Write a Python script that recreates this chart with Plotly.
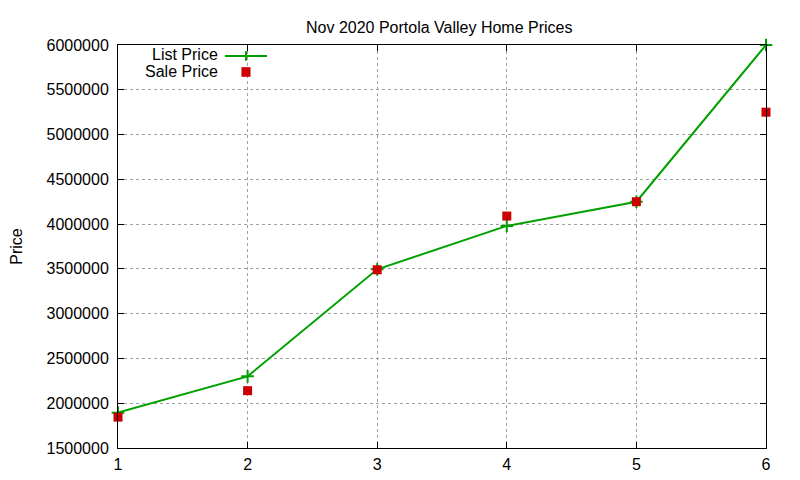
import plotly.graph_objects as go

# Nov 2020 Portola Valley home prices
HOMES = [1, 2, 3, 4, 5, 6]
LIST_PRICE = [1895000, 2300000, 3495000, 3980000, 4250000, 6000000]
SALE_PRICE = [1845000, 2140000, 3490000, 4090000, 4250000, 5250000]

GREEN = '#00a000'
RED = '#cc0000'
FONT = dict(family='Liberation Sans, Arial, sans-serif', size=16, color='black')

fig = go.Figure()
fig.add_trace(go.Scatter(x=HOMES, y=LIST_PRICE, mode='lines+markers', name='List Price',
                         line=dict(color=GREEN, width=2),
                         marker=dict(symbol='cross-thin', size=9,
                                     line=dict(color=GREEN, width=2)),
                         cliponaxis=False))
fig.add_trace(go.Scatter(x=HOMES, y=SALE_PRICE, mode='markers', name='Sale Price',
                         marker=dict(symbol='square', size=9, color=RED),
                         cliponaxis=False))

# gnuplot-style key: text on the left, sample on the right
key_shapes = [
    dict(type='line', xref='paper', yref='paper', x0=0.165, x1=0.230, y0=0.973, y1=0.973,
         line=dict(color=GREEN, width=2)),
    dict(type='line', xref='paper', yref='paper', x0=0.1975, x1=0.1975, y0=0.961, y1=0.985,
         line=dict(color=GREEN, width=2)),
    dict(type='rect', xref='paper', yref='paper', x0=0.1905, x1=0.2045, y0=0.921, y1=0.945,
         fillcolor=RED, line=dict(width=0)),
]
key_text = [
    dict(text='List Price', xref='paper', yref='paper', x=0.157, y=0.976,
         xanchor='right', yanchor='middle', showarrow=False, font=FONT),
    dict(text='Sale Price', xref='paper', yref='paper', x=0.157, y=0.935,
         xanchor='right', yanchor='middle', showarrow=False, font=FONT),
]

axis_common = dict(showline=True, linecolor='black', linewidth=1, mirror='ticks',
                   ticks='inside', ticklen=6, tickcolor='black', automargin=False,
                   showgrid=True, gridcolor='#a0a0a0', griddash='dot', gridwidth=1,
                   zeroline=False, tickfont=FONT)

fig.update_layout(
    width=792, height=472,
    paper_bgcolor='white', plot_bgcolor='white',
    font=FONT,
    title=dict(text='Nov 2020 Portola Valley Home Prices', x=0.5445, xanchor='center',
               y=0.958, yanchor='middle', font=dict(size=16)),
    showlegend=False,
    shapes=key_shapes, annotations=key_text,
    margin=dict(l=110, r=34, t=37, b=32),
    xaxis=dict(range=[1, 6], dtick=1, ticklabelstandoff=2, **axis_common),
    yaxis=dict(range=[1500000, 6000000], dtick=500000, tickformat='d',
               ticklabelstandoff=5,
               title=dict(text='Price', standoff=27, font=FONT), **axis_common),
)

fig.write_html("out.html")
